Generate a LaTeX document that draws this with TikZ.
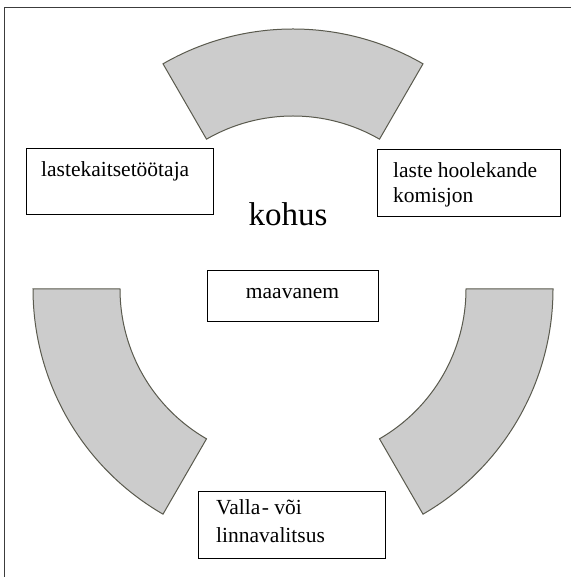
\documentclass[tikz,border=0pt]{standalone}
\usepackage{fontspec}
\setmainfont{Liberation Serif}
\begin{document}
\begin{tikzpicture}[x=1pt,y=1pt,
  sector/.style={fill=black!20, draw={rgb,255:red,90;green,90;blue,78}, line width=1pt},
  boxnode/.style={draw=black, line width=1.2pt, rectangle, inner sep=0pt, anchor=north west},
  txt/.style={inner sep=0pt, font=\fontsize{21.5}{25}\selectfont},
  frameline/.style={draw={rgb,255:red,60;green,60;blue,60}, line width=1pt}]
\useasboundingbox (0,0) rectangle (571,577);
\coordinate (frameA) at (4.5,0);
\coordinate (frameB) at (4.5,569.5);
\coordinate (frameC) at (571,569.5);
\draw[frameline] (frameA) -- (frameB) -- (frameC);
\coordinate (c) at (293,288);
% annular sectors
\foreach \a in {60,180,300}{
  \path[sector] ([shift={(\a:260)}]c) arc[start angle=\a, end angle=\a+60, radius=260pt]
     -- ([shift={(\a+60:173)}]c) arc[start angle=\a+60, end angle=\a, radius=173pt] -- cycle;
}
% boxes
\node[boxnode, minimum width=187pt, minimum height=66pt] (b1) at (26,577-148) {};
\node[boxnode, minimum width=183pt, minimum height=67pt] (b2) at (377,577-149) {};
\node[boxnode, minimum width=171pt, minimum height=51pt] (b3) at (207,577-270) {};
\node[boxnode, minimum width=187pt, minimum height=67pt] (b4) at (198,577-491) {};
% texts
\node[txt, anchor=base west] (t1) at (41,577-177) {lastekaitsetöötaja};
\node[txt, anchor=base west] (t2a) at (393,577-178) {laste hoolekande};
\node[txt, anchor=base west] (t2b) at (393,577-203) {komisjon};
\node[inner sep=0pt, font=\fontsize{33}{38}\selectfont, anchor=base] (k) at (288,577-226) {kohus};
\node[txt, anchor=base] (t3) at (292.5,577-299) {maavanem};
\node[txt, anchor=base west] (t4a) at (216,577-515) {Valla\kern1.5pt- või};
\node[txt, anchor=base west] (t4b) at (216,577-543) {linnavalitsus};
\end{tikzpicture}
\end{document}
